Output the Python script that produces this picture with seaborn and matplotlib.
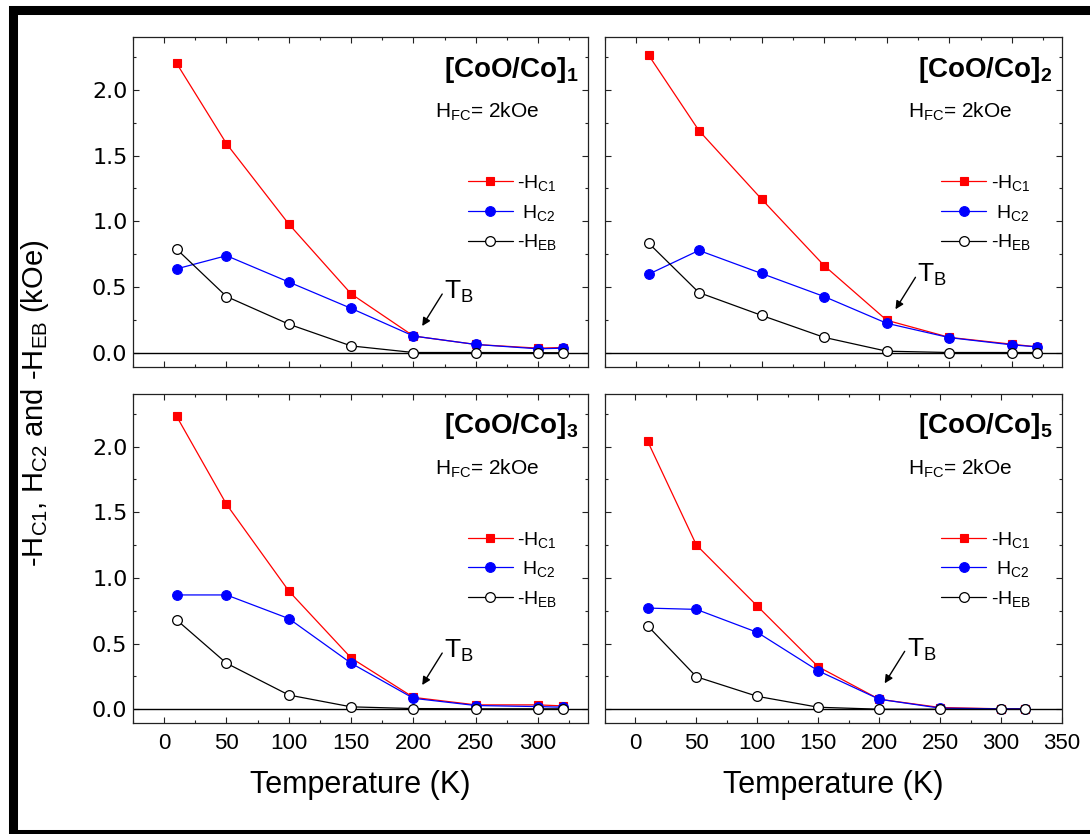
import matplotlib
matplotlib.use("Agg")
import matplotlib.pyplot as plt
from matplotlib.patches import Rectangle
from matplotlib.ticker import MultipleLocator
import seaborn as sns
import pandas as pd

# ---------------- data ----------------
temperature = [10, 50, 100, 150, 200, 250, 300, 320]

p1_hc1 = [2.20, 1.59, 0.98, 0.45, 0.13, 0.066, 0.038, 0.043]
p1_hc2 = [0.64, 0.74, 0.54, 0.34, 0.13, 0.066, 0.033, 0.038]
p1_heb = [0.79, 0.43, 0.22, 0.055, 0.005, 0.005, 0.004, 0.003]

p2_hc1 = [2.26, 1.69, 1.17, 0.665, 0.25, 0.12, 0.068, 0.048]
p2_hc2 = [0.60, 0.78, 0.605, 0.43, 0.227, 0.118, 0.063, 0.048]
p2_heb = [0.834, 0.46, 0.287, 0.12, 0.015, 0.005, 0.005, 0.005]

p3_hc1 = [2.23, 1.56, 0.90, 0.39, 0.09, 0.033, 0.033, 0.025]
p3_hc2 = [0.87, 0.87, 0.69, 0.35, 0.083, 0.028, 0.020, 0.015]
p3_heb = [0.68, 0.35, 0.108, 0.018, 0.005, 0.003, 0.003, 0.003]

p4_hc1 = [2.04, 1.25, 0.785, 0.323, 0.076, 0.013, 0.003, 0.003]
p4_hc2 = [0.77, 0.76, 0.585, 0.292, 0.076, 0.008, 0.003, 0.003]
p4_heb = [0.635, 0.247, 0.098, 0.015, 0.0, 0.0, 0.0, 0.0]

panel_titles = [r"$\mathbf{[CoO/Co]_{1}}$", r"$\mathbf{[CoO/Co]_{2}}$",
                r"$\mathbf{[CoO/Co]_{3}}$", r"$\mathbf{[CoO/Co]_{5}}$"]
series_labels = [r"-H$_\mathrm{C1}$", r" H$_\mathrm{C2}$", r"-H$_\mathrm{EB}$"]
field_label = r"H$_\mathrm{FC}$= 2kOe"
tb_label = r"T$_\mathrm{B}$"
x_label = "Temperature (K)"
y_label = r"-H$_\mathrm{C1}$, H$_\mathrm{C2}$ and -H$_\mathrm{EB}$ (kOe)"

panels = [(p1_hc1, p1_hc2, p1_heb), (p2_hc1, p2_hc2, p2_heb),
          (p3_hc1, p3_hc2, p3_heb), (p4_hc1, p4_hc2, p4_heb)]
# arrow heads (data coords) for T_B annotations
tb_heads = [(207, 0.206), (207, 0.333), (207, 0.184), (204.5, 0.197)]

# ---------------- style ----------------
sns.set_theme(style="ticks")
plt.rcParams["font.family"] = ["Liberation Sans", "DejaVu Sans"]
plt.rcParams["mathtext.fontset"] = "custom"
plt.rcParams["mathtext.rm"] = "Liberation Sans"
plt.rcParams["mathtext.it"] = "Liberation Sans:italic"
plt.rcParams["mathtext.bf"] = "Liberation Sans:bold"
plt.rcParams["mathtext.sf"] = "Liberation Sans"
for key in ["text.color", "axes.labelcolor", "xtick.color", "ytick.color",
            "axes.edgecolor"]:
    plt.rcParams[key] = "black"

fig = plt.figure(figsize=(10.9, 8.34), dpi=100)
W, H = 1090.0, 834.0

def add_ax(left, top, right, bottom):
    return fig.add_axes([left / W, 1 - bottom / H, (right - left) / W, (bottom - top) / H])

axes = [add_ax(133, 37, 588, 367), add_ax(605, 37, 1062, 367),
        add_ax(133, 394, 588, 723), add_ax(605, 394, 1062, 723)]
xlims = [(-25, 340), (-25, 340), (-25, 340), (-25, 350)]

styles = [dict(color="red", marker="s", markersize=6.0, markerfacecolor="red",
               markeredgecolor="red", markeredgewidth=0.8),
          dict(color="blue", marker="o", markersize=7.0, markerfacecolor="blue",
               markeredgecolor="blue", markeredgewidth=0.8),
          dict(color="black", marker="o", markersize=7.0, markerfacecolor="white",
               markeredgecolor="black", markeredgewidth=0.9)]

for i, (ax, data) in enumerate(zip(axes, panels)):
    ax.axhline(0, color="black", lw=1.0, zorder=1)
    for vals, lab, st in zip(data, series_labels, styles):
        df = pd.DataFrame({"T": temperature, "v": vals})
        sns.lineplot(data=df, x="T", y="v", ax=ax, label=lab, lw=0.9,
                     sort=False, zorder=3, **st)
    ax.set_xlim(*xlims[i])
    ax.set_ylim(-0.105, 2.40)
    ax.xaxis.set_major_locator(MultipleLocator(50))
    ax.xaxis.set_minor_locator(MultipleLocator(25))
    ax.yaxis.set_major_locator(MultipleLocator(0.5))
    ax.yaxis.set_minor_locator(MultipleLocator(0.25))
    ax.tick_params(which="both", direction="in", top=True, right=True,
                   width=0.8, color="#222222")
    ax.tick_params(which="major", length=4.5)
    ax.tick_params(which="minor", length=2.5)
    ax.tick_params(axis="x", labelsize=16, pad=7, labelcolor="black")
    ax.tick_params(axis="y", labelsize=16, pad=4, labelcolor="black")
    for lbl in ax.get_yticklabels():
        lbl.set_fontfamily("DejaVu Sans")
    for sp in ax.spines.values():
        sp.set_linewidth(0.9)
        sp.set_color("#222222")
    ax.set_ylabel("")
    if i < 2:
        ax.set_xlabel("")
        ax.tick_params(axis="x", labelbottom=False)
    else:
        ax.set_xlabel(x_label, fontsize=22, labelpad=12, color="black")
    if i in (1, 3):
        ax.tick_params(axis="y", labelleft=False)

    ax.text(0.978, 0.88, panel_titles[i], transform=ax.transAxes,
            ha="right", va="baseline", fontsize=20, color="black")
    ax.text(0.664, 0.755, field_label, transform=ax.transAxes,
            ha="left", va="baseline", fontsize=15, color="black")

    leg = ax.legend(loc="upper left", bbox_to_anchor=(0.736, 0.588),
                    frameon=False, fontsize=14, handlelength=2.3,
                    handletextpad=0.25, labelspacing=0.50, borderpad=0,
                    borderaxespad=0)
    for t in leg.get_texts():
        t.set_color("black")

    hx, hy = tb_heads[i]
    ax.annotate("", xy=(hx, hy), xytext=(20, 32), textcoords="offset pixels",
                arrowprops=dict(arrowstyle="-|>", color="black", lw=1.0,
                                mutation_scale=12, shrinkA=0, shrinkB=0))
    ax.annotate(tb_label, xy=(hx, hy), xytext=(22, 27), textcoords="offset pixels",
                ha="left", va="baseline", fontsize=19, color="black")

fig.text(35 / W, 1 - 403 / H, y_label, rotation=90, ha="center", va="center",
         fontsize=21, color="black")

fig.add_artist(Rectangle((12.5 / W, 0.5 / H), 1079 / W, 824 / H,
                         transform=fig.transFigure, fill=False, lw=6.5,
                         ec="black"))

fig.savefig("out.png", dpi=100)
